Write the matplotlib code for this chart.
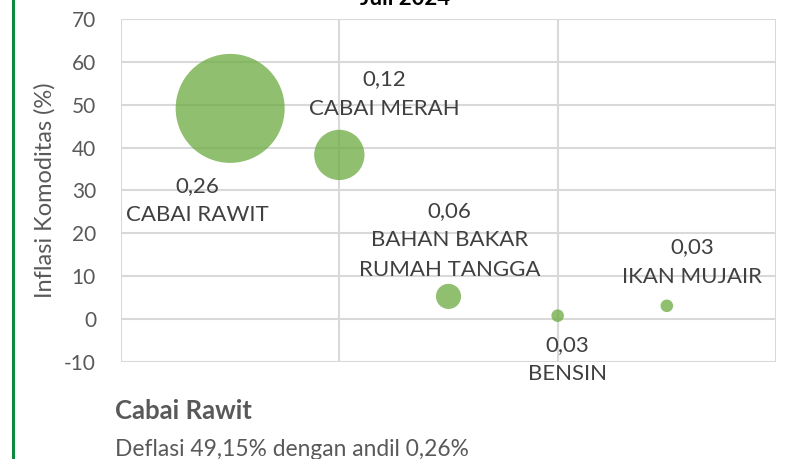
import matplotlib
matplotlib.use("Agg")
import matplotlib.pyplot as plt
from matplotlib.lines import Line2D

plt.rcParams['font.family'] = ['Lato', 'DejaVu Sans']
plt.rcParams['axes.unicode_minus'] = False

# data
komoditas = ["CABAI RAWIT", "CABAI MERAH", "BAHAN BAKAR\nRUMAH TANGGA", "BENSIN", "IKAN MUJAIR"]
urutan = [1, 2, 3, 4, 5]
inflasi = [49.15, 38.3, 5.3, 0.8, 3.1]
andil = [0.26, 0.12, 0.06, 0.03, 0.03]
andil_label = ["0,26", "0,12", "0,06", "0,03", "0,03"]
y_ticks = [-10, 0, 10, 20, 30, 40, 50, 60, 70]

# label offsets from bubble centre (pixels, +y = up)
offsets = [(-33, -92), (45, 61), (1, 56), (10, -44), (25, 44)]

fig = plt.figure(figsize=(7.9, 4.59), dpi=100)
ax = fig.add_axes([121/790, 1 - 362/459, 655/790, 343/459])

green = "#70AD47"
# bubble diameter proportional to andil (Excel "width" sizing)
k = 109 / 0.26 * 0.72
sizes = [(a * k) ** 2 for a in andil]
ax.scatter(urutan, inflasi, s=sizes, color=green, alpha=0.78, edgecolors='none', zorder=3)

for x, y, lab, nm, (dx, dy) in zip(urutan, inflasi, andil_label, komoditas, offsets):
    ax.annotate(lab + "\n" + nm, (x, y), xytext=(dx * 0.72, dy * 0.72),
                textcoords='offset points', ha='center', va='center',
                fontsize=16, color='#404040', linespacing=1.6, zorder=4)

ax.set_xlim(0, 6)
ax.set_ylim(-10, 70)
ax.set_xticks([0, 2, 4, 6])
ax.set_yticks(y_ticks)
ax.set_xticklabels([])
ax.grid(True, color='#D9D9D9', linewidth=1.5, zorder=0)
ax.set_axisbelow(True)
for s in ax.spines.values():
    s.set_visible(False)
ax.tick_params(length=0, labelsize=15, labelcolor='#595959', pad=18)
ax.set_ylabel("Inflasi Komoditas (%)", fontsize=17, color='#595959', labelpad=6)

# cut-off title at the top
fig.text(405/790, 1 - 5/459, "Juli 2024", ha='center', va='baseline',
         fontsize=16, fontweight='bold', color='black')

fig.text(115/790, 1 - 419/459, "Cabai Rawit", ha='left', va='baseline',
         fontsize=18.5, fontweight='bold', color='#595959')
fig.text(115/790, 1 - 456/459, "Deflasi 49,15% dengan andil 0,26%", ha='left', va='baseline',
         fontsize=16.4, color='#595959')

fig.add_artist(Line2D([13/790, 13/790], [0, 1], color='#0E8A3E', linewidth=2.2,
                      transform=fig.transFigure))

fig.savefig("out.png", dpi=100)
